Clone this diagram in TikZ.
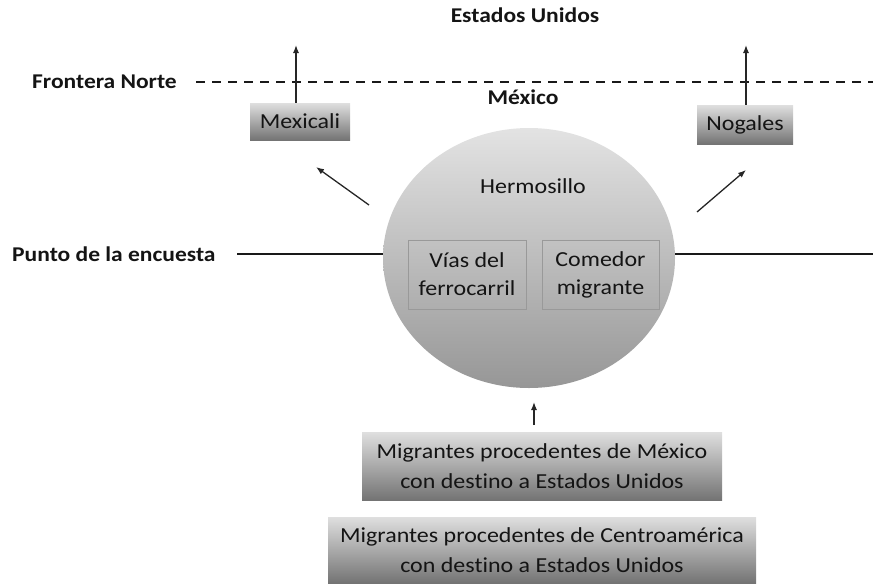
\documentclass[tikz,border=0pt]{standalone}
\usepackage{fontspec}
\setmainfont[FakeStretch=1.12,Ligatures=NoCommon]{Carlito}
\usetikzlibrary{arrows.meta,shapes.geometric}
\definecolor{txt}{HTML}{141414}
\tikzset{
  lbl/.style={font=\fontsize{21.4}{29.5}\selectfont, text=txt, inner sep=0pt, align=center},
  boldlbl/.style={lbl, font=\fontsize{21}{29}\selectfont\bfseries},
  gbox/.style={lbl, top color=gray!25, bottom color=gray!85!black!95, draw=none},
  inbox/.style={lbl, draw=gray!80, line width=0.8pt, font=\fontsize{21.4}{28}\selectfont},
  circ/.style={ellipse, top color=gray!22, bottom color=gray!82, draw=none, inner sep=0pt},
  arr/.style={-{Latex[length=8pt,width=6pt]}, line width=1.3pt, draw=black!85},
  solidline/.style={line width=1.8pt, draw=black!90},
  dashline/.style={line width=1.9pt, draw=black!90, dash pattern=on 9pt off 7pt}
}
\begin{document}
\begin{tikzpicture}[x=1pt,y=-1pt]
\useasboundingbox (0,0) rectangle (873,584);
% labels
\node[boldlbl] (eu) at (525,15) {Estados Unidos};
\node[boldlbl, anchor=west] (fn) at (32,82) {Frontera Norte};
\node[boldlbl] (mx) at (523,97) {México};
\node[boldlbl, anchor=west] (pe) at (12,254) {Punto de la encuesta};
% border line
\coordinate (dl) at (196,82);
\coordinate (dr) at (873,82);
\draw[dashline] (dl) -- (dr);
% circle
\node[circ, minimum width=292pt, minimum height=260pt] (herm) at (529,258) {};
\node[lbl] (hl) at (533,186) {Hermosillo};
\node[inbox, minimum width=118pt, minimum height=69pt] (vias) at (467,274.5) {Vías del\\ferrocarril};
\node[inbox, minimum width=117pt, minimum height=69pt] (com) at (600.5,274.5) {Comedor\\migrante};
% survey line
\coordinate (pl) at (237,254);
\coordinate (pr) at (873,254);
\draw[solidline] (pl) -- (pl -| herm.west);
\draw[solidline] (pr -| herm.east) -- (pr);
% border cities
\node[gbox, minimum width=100pt, minimum height=37pt] (mexicali) at (300,121.5) {Mexicali};
\node[gbox, minimum width=96pt, minimum height=39pt] (nogales) at (745,124.5) {Nogales};
\coordinate (mxt) at (296,45);
\coordinate (ngt) at (746,45);
\draw[arr] (mxt |- mexicali.north) -- (mxt);
\draw[arr] (ngt |- nogales.north) -- (ngt);
% diagonal arrows
\coordinate (d1s) at (369,205);
\coordinate (d1e) at (316,167);
\coordinate (d2s) at (697,212);
\coordinate (d2e) at (746,170);
\draw[arr] (d1s) -- (d1e);
\draw[arr] (d2s) -- (d2e);
% origin boxes
\node[gbox, minimum width=360pt, minimum height=68pt] (b1) at (542,466) {Migrantes procedentes de México\\con destino a Estados Unidos};
\node[gbox, minimum width=428pt, minimum height=66pt] (b2) at (542,550) {Migrantes procedentes de Centroamérica\\con destino a Estados Unidos};
\coordinate (ua) at (534,425);
\coordinate (ub) at (534,402);
\draw[arr] (ua) -- (ub);
\end{tikzpicture}
\end{document}
